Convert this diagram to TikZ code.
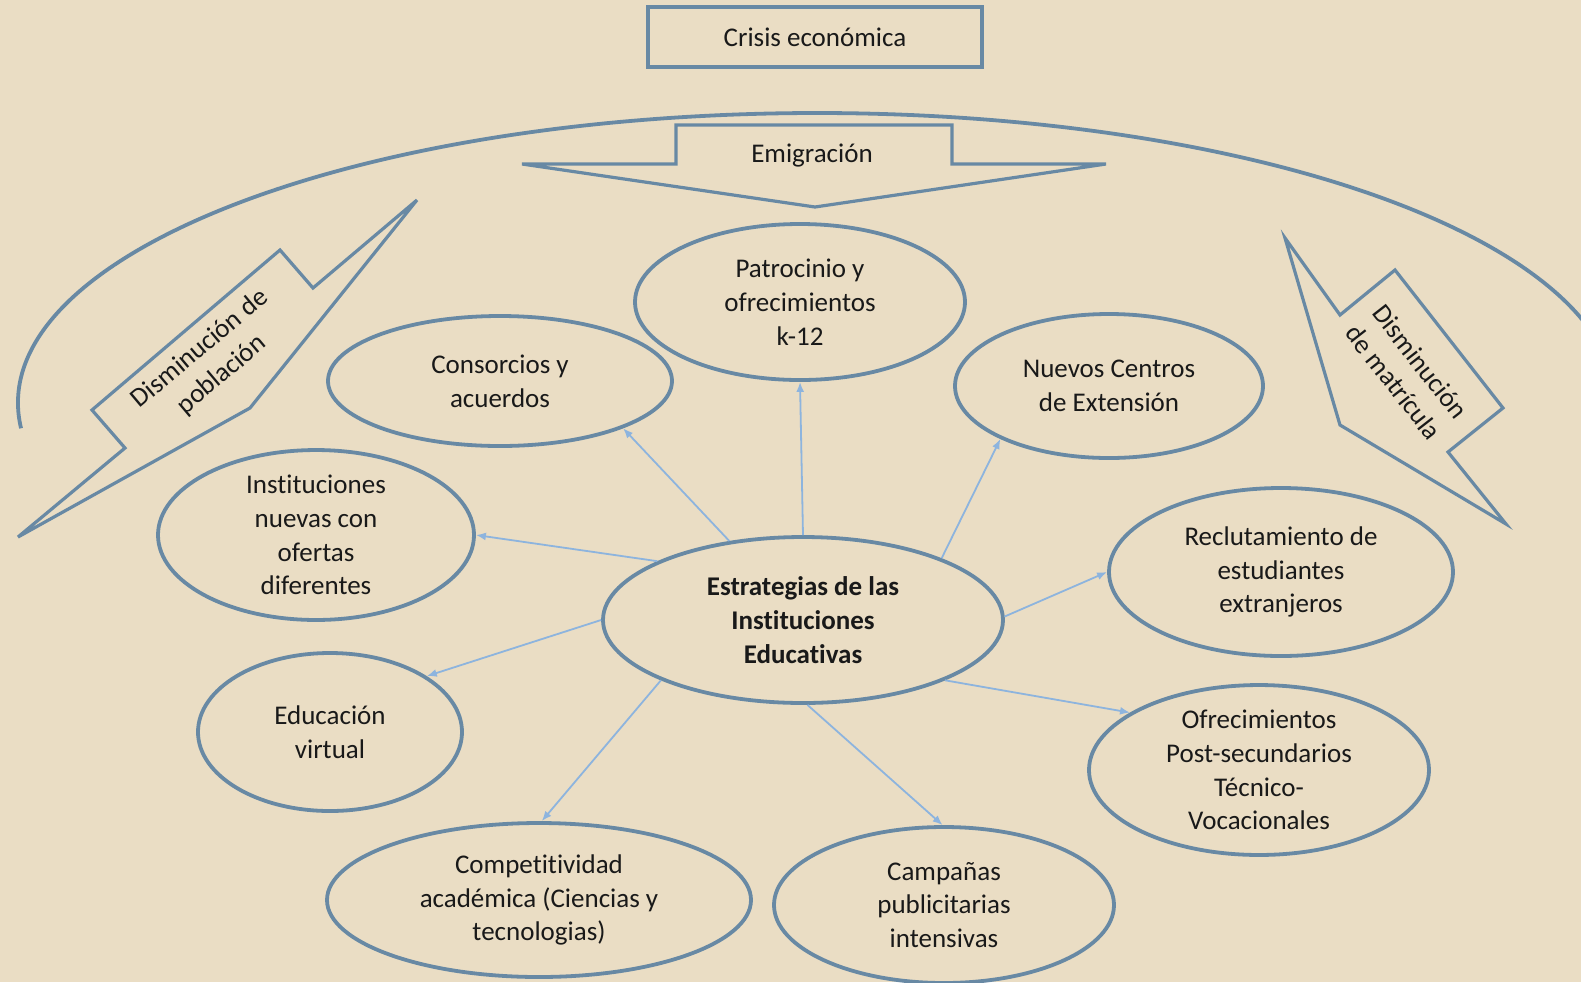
\documentclass[tikz,border=0pt]{standalone}
\usepackage{fontspec}
\setmainfont{Carlito}[Ligatures=NoCommon]
\usetikzlibrary{shapes.geometric,arrows.meta}
\definecolor{bg}{RGB}{234,221,196}
\definecolor{edgeblue}{RGB}{104,137,164}
\definecolor{linkblue}{RGB}{141,180,222}
\definecolor{ink}{RGB}{25,25,25}
\begin{document}
\begin{tikzpicture}[x=0.5pt,y=-0.5pt,
  every node/.style={font=\fontsize{13.5}{16.9}\selectfont, text=ink},
  oval/.style={ellipse, draw=edgeblue, line width=1.9pt, fill=bg, inner sep=0pt, align=center},
  shapeline/.style={draw=edgeblue, line width=1.6pt, fill=bg, line join=miter},
  link/.style={draw=linkblue, line width=0.9pt, -{Latex[length=5pt,width=4pt]}},
  lbl/.style={align=center, inner sep=0pt}]
\fill[bg] (0,0) rectangle (1581,982);
\useasboundingbox (0,0) rectangle (1581,982);

% big arc
\coordinate (bigc) at (817,403);
\draw[draw=edgeblue, line width=1.9pt] ([shift={(185:399.5pt and 145pt)}]bigc) arc[start angle=185, end angle=-8, x radius=399.5pt, y radius=145pt];

% Crisis box
\node[draw=edgeblue, line width=1.9pt, fill=bg, minimum width=167pt, minimum height=30pt, inner sep=0pt] (crisis) at (815,37) {Crisis económica};

% Emigracion arrow
\draw[shapeline] (676,125) -- (952,125) -- (952,164) -- (1106,164) -- (815,207) -- (522,164) -- (676,164) -- cycle;
\node[lbl] (emig) at (812,156) {Emigración};

% left arrow
\draw[shapeline] (18,537) -- (125,448) -- (92,410) -- (280,250) -- (313,288) -- (417,200) -- (250,408) -- cycle;
\node[lbl, rotate=40] (pobl) at (211,362) {Disminución de\\población};

% right arrow
\draw[shapeline] (1285,238) -- (1340,315) -- (1395,270) -- (1503,408) -- (1448,452) -- (1506,524) -- (1340,425) -- cycle;
\node[lbl, rotate=-52] (matr) at (1407,372) {Disminución\\de matrícula};

% ellipses
\node[oval, minimum width=165pt, minimum height=78pt] (pat) at (800,302) {Patrocinio y\\ofrecimientos\\k-12};
\node[oval, minimum width=172pt, minimum height=65pt] (con) at (500,381) {Consorcios y\\acuerdos};
\node[oval, minimum width=154pt, minimum height=72pt] (nue) at (1109,386) {Nuevos Centros\\de Extensión};
\node[oval, minimum width=158pt, minimum height=79pt] (ins) at (316,535) {Instituciones\\nuevas con\\ofertas\\diferentes};
\node[oval, minimum width=200pt, minimum height=83pt, font=\fontsize{13.5}{16.9}\selectfont\bfseries] (cen) at (803,620) {Estrategias de las\\Instituciones\\Educativas};
\node[oval, minimum width=172pt, minimum height=84pt] (rec) at (1281,572) {Reclutamiento de\\estudiantes\\extranjeros};
\node[oval, minimum width=132pt, minimum height=79pt] (edu) at (330,732) {Educación\\virtual};
\node[oval, minimum width=170pt, minimum height=79pt] (ofr) at (1259,770) {Ofrecimientos\\Post-secundarios\\Técnico-\\Vocacionales};
\node[oval, minimum width=212pt, minimum height=77pt] (com) at (539,900) {Competitividad\\académica (Ciencias y\\tecnologias)};
\node[oval, minimum width=170pt, minimum height=78pt] (cam) at (944,905) {Campañas\\publicitarias\\intensivas};

% connectors
\draw[link] (cen.90) -- (pat.270);
\draw[link] (cen.133) -- (con.-21);
\draw[link] (cen.24) -- (nue.206);
\draw[link] (cen.158) -- (ins.0);
\draw[link] (cen.1) -- (rec.180);
\draw[link] (cen.180) -- (edu.30);
\draw[link] (cen.-23) -- (ofr.156);
\draw[link] (cen.203) -- (com.88);
\draw[link] (cen.-87) -- (cam.91);
\end{tikzpicture}
\end{document}
